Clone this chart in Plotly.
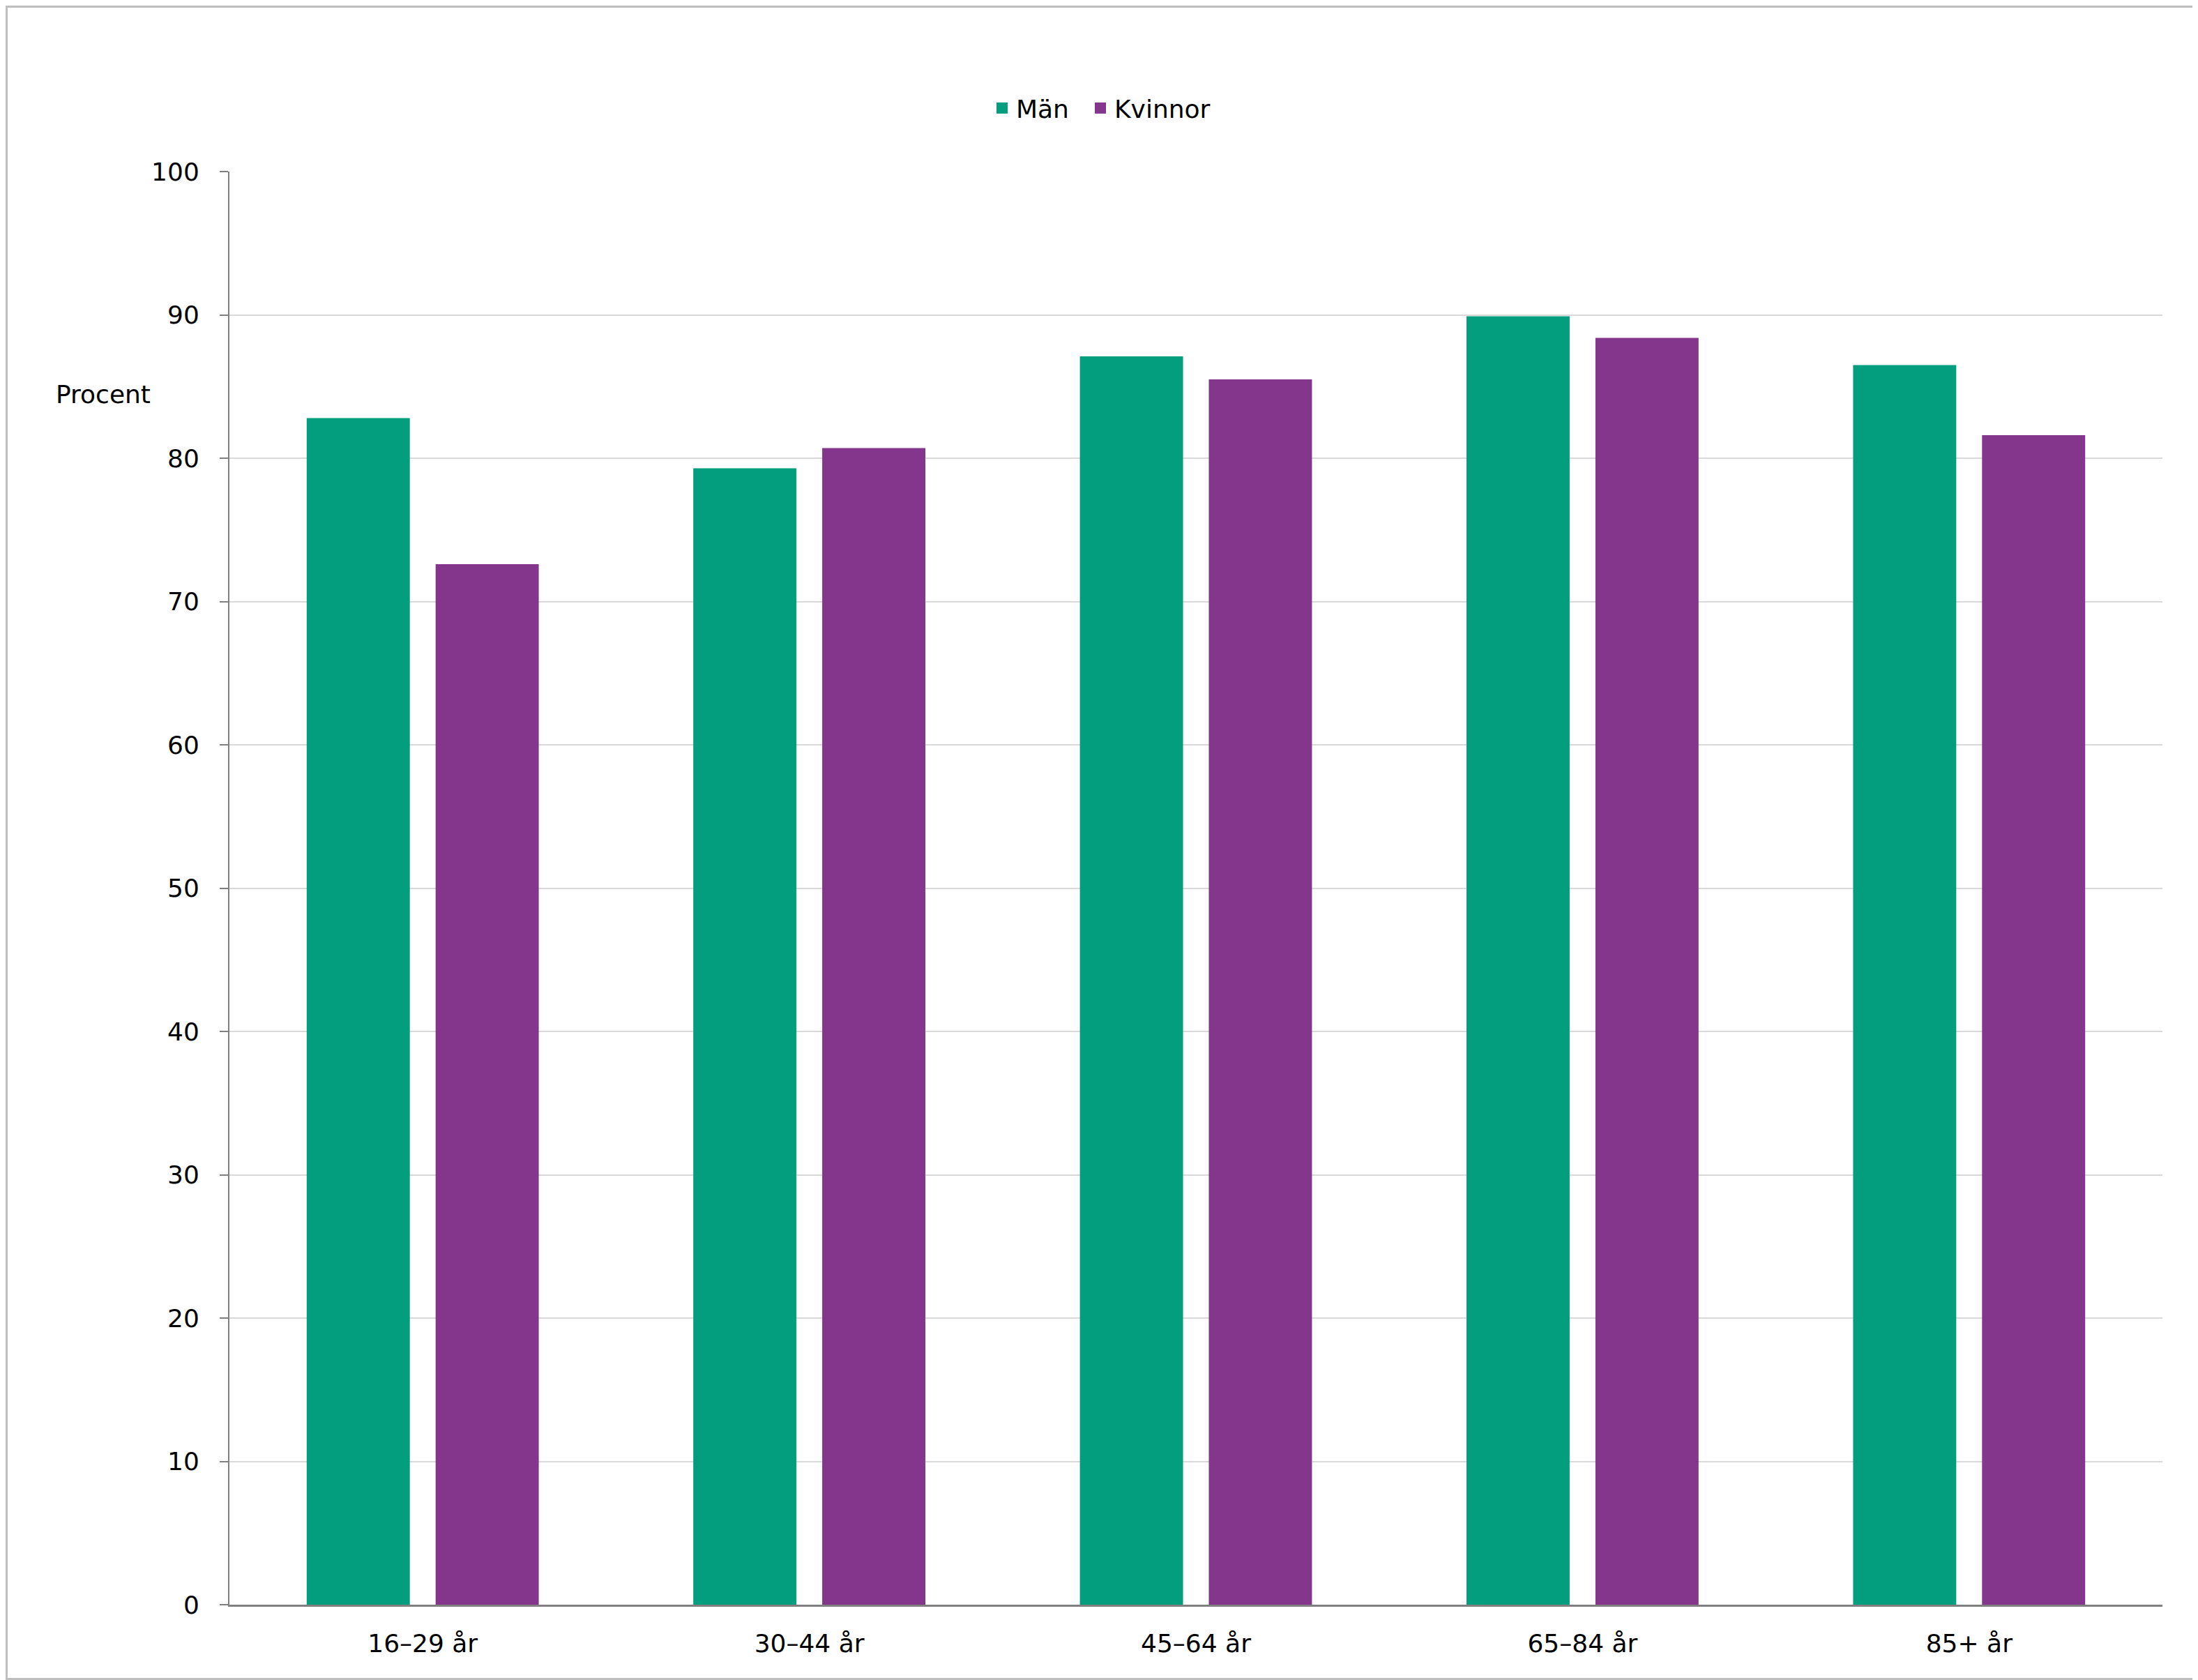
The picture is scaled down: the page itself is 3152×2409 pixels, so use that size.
import plotly.graph_objects as go

categories = ["16–29 år", "30–44 år", "45–64 år", "65–84 år", "85+ år"]
man = [82.8, 79.3, 87.1, 89.9, 86.5]
kvinnor = [72.6, 80.7, 85.5, 88.4, 81.6]
series_names = ["Män", "Kvinnor"]
colors = ["#029E7D", "#84368C"]
y_ticks = [0, 10, 20, 30, 40, 50, 60, 70, 80, 90, 100]

OFF = 8  # default page body margin
W, H = 3152 - OFF, 2409 - OFF
L, R, T, B = 329 - OFF, 51, 246 - OFF, 108
pw, ph = W - L - R, H - T - B
FONT = "DejaVu Sans"

fig = go.Figure()
for name, vals, c in zip(series_names, [man, kvinnor], colors):
    fig.add_trace(go.Bar(x=categories, y=vals, name=name, marker=dict(color=c, line=dict(width=0)),
                         showlegend=False))
legend_ids = ["legend", "legend2"]
for name, c, lg in zip(series_names, colors, legend_ids):
    fig.add_trace(go.Scatter(x=[None], y=[None], name=name, mode="markers", legend=lg,
                             marker=dict(symbol="square", size=22, color=c)))

def leg(px_left):
    return dict(orientation="h", xref="container", yref="container",
                x=(px_left - OFF) / W, y=1 - (155 - OFF) / H,
                xanchor="left", yanchor="middle", font=dict(size=36), itemsizing="trace",
                bgcolor="rgba(0,0,0,0)", borderwidth=0)

fig.update_layout(
    width=W, height=H,
    margin=dict(l=L, r=R, t=T, b=B),
    paper_bgcolor="white", plot_bgcolor="white",
    font=dict(family=FONT, size=36, color="black"),
    barmode="group", bargap=0.333, bargroupgap=0.2,
    legend=leg(1429 - 12),
    legend2=leg(1570 - 12),
    xaxis=dict(showline=True, linecolor="#808080", linewidth=3, ticks="", showgrid=False,
               ticklabelstandoff=22, tickfont=dict(size=36)),
    yaxis=dict(range=[0, 100], tickvals=y_ticks, showline=True, linecolor="#808080", linewidth=2,
               ticks="outside", ticklen=12, tickcolor="#808080", tickwidth=2,
               gridcolor="#D9D9D9", gridwidth=2, zeroline=False, ticklabelstandoff=22,
               tickfont=dict(size=36)),
    annotations=[dict(text="Procent", xref="paper", yref="paper", x=(78 - OFF - L) / pw,
                      y=(H - B - (565 - OFF)) / ph,
                      xanchor="left", yanchor="middle", showarrow=False, font=dict(size=36))],
    shapes=[dict(type="rect", xref="paper", yref="paper",
                 x0=(1.5 - L) / pw, x1=(W - 1.5 - L) / pw,
                 y0=(H - B - (H - 1.5)) / ph, y1=(H - B - 1.5) / ph,
                 line=dict(color="#BFBFBF", width=3), layer="below")],
)

fig.write_html("out.html")
